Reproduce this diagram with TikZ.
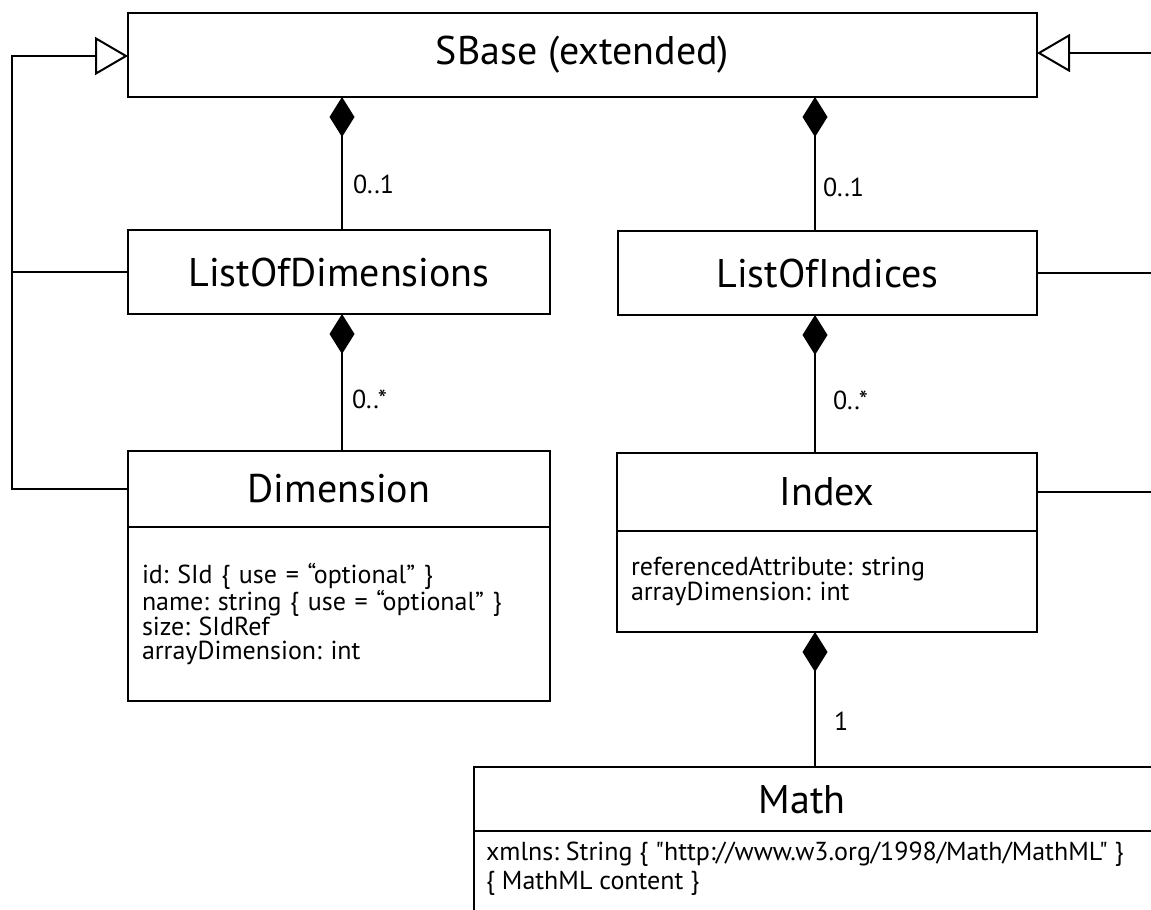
\documentclass[tikz,border=0pt]{standalone}
\usepackage{fontspec}
\setmainfont{PT Sans}[Ligatures=TeXOff]
\usetikzlibrary{arrows.meta}
\frenchspacing
\begin{document}
\begin{tikzpicture}[x=1pt,y=-1pt, line width=2pt,
  box/.style={draw, rectangle, inner sep=0pt, outer sep=0pt, font=\fontsize{40}{46}\selectfont},
  title/.style={inner sep=0pt, font=\fontsize{40}{46}\selectfont},
  attrbox/.style={draw, rectangle, inner sep=0pt, outer sep=0pt, align=left, font=\fontsize{26}{24.6}\selectfont},
  attr/.style={anchor=base west, align=left, inner sep=0pt, font=\fontsize{26}{29}\selectfont},
  lbl/.style={anchor=west, inner sep=0pt, font=\fontsize{26}{28}\selectfont},
  gen/.style={-{Triangle[open,length=33pt,width=38pt]}},
  comp/.style={-{Diamond[length=40pt,width=25pt]}}]
\useasboundingbox (0,0) rectangle (1151,910);
\clip (0,0) rectangle (1151,910);

% classes
\node[box, minimum width=909pt, minimum height=84pt] (sbase) at (582.5,55) {SBase (extended)};
\node[box, minimum width=422pt, minimum height=84pt] (lod) at (339,272) {ListOfDimensions};
\node[box, minimum width=419pt, minimum height=84pt] (loi) at (827.5,273) {ListOfIndices};

\node[box, minimum width=422pt, minimum height=76pt] (dimt) at (339,489) {Dimension};
\node[attrbox, minimum width=422pt, minimum height=174pt, anchor=north, text width=394pt] (dima) at (dimt.south)
  {id: SId \{ use = “optional” \}\\name: string \{ use = “optional” \}\\size: SIdRef\\arrayDimension: int};

\node[box, minimum width=420pt, minimum height=78pt] (idxt) at (827,492) {Index};
\node[attrbox, minimum width=420pt, minimum height=101pt, anchor=north, text width=392pt] (idxa) at (idxt.south)
  {referencedAttribute: string\\arrayDimension: int};

\node[box, minimum width=720pt, minimum height=64pt, anchor=north west] (matht) at (474,767) {};
\node[title] (mathlbl) at (802,800) {Math};
\node[box, minimum width=720pt, minimum height=110pt, anchor=north west] (matha) at (matht.south west) {};
\node[attr] (mathtxt) at (485,889) {xmlns: String \{ "http://www.w3.org/1998/Math/MathML" \}\\\{ MathML content \}};

% generalization
\coordinate (lbus) at (12,56);
\coordinate (rbus) at (1165,53);
\draw[gen] (dimt.west) -- (dimt.west -| lbus) -- (lbus) -- (lbus -| sbase.west);
\draw (lod.west) -- (lod.west -| lbus);
\draw[gen] (rbus) -- (rbus -| sbase.east);
\draw (loi.east) -- (loi.east -| rbus);
\draw (idxt.east) -- (idxt.east -| rbus);

% compositions
\coordinate (lc) at (342,0);
\coordinate (rc) at (815,0);
\draw[comp] (lod.north -| lc) -- (sbase.south -| lc);
\draw[comp] (dimt.north -| lc) -- (lod.south -| lc);
\draw[comp] (loi.north -| rc) -- (sbase.south -| rc);
\draw[comp] (idxt.north -| rc) -- (loi.south -| rc);
\draw[comp] (matht.north -| rc) -- (idxa.south -| rc);

% multiplicities
\node[lbl] (m1) at (352,184) {0..1};
\node[lbl] (m2) at (822,187) {0..1};
\node[lbl] (m3) at (351,399) {0..*};
\node[lbl] (m4) at (832,400) {0..*};
\node[lbl] (m5) at (833,721) {1};
\end{tikzpicture}
\end{document}
